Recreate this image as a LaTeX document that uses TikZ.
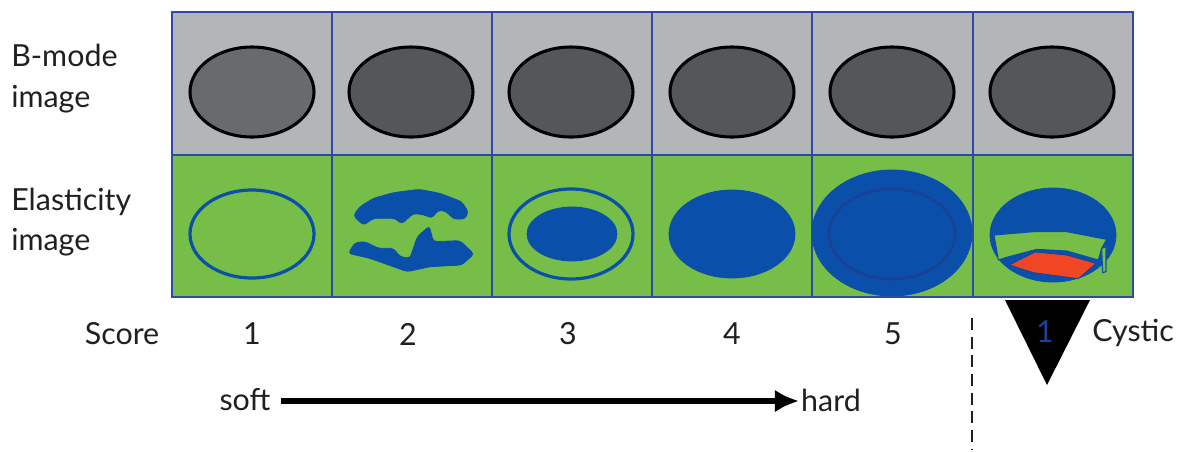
\documentclass[tikz,border=0pt]{standalone}
\usepackage{fontspec}
\usetikzlibrary{arrows.meta}
\setmainfont{Lato}
\definecolor{cellgrey}{RGB}{179,181,183}
\definecolor{cellgreen}{RGB}{118,190,72}
\definecolor{gridblue}{RGB}{45,75,165}
\definecolor{lesionblue}{RGB}{10,80,170}
\definecolor{deepblue}{RGB}{25,65,150}
\definecolor{lesiongrey}{RGB}{84,86,88}
\definecolor{hotred}{RGB}{240,70,35}
\definecolor{inktext}{RGB}{35,31,32}
\tikzset{
  cellb/.style={fill=cellgrey,draw=gridblue,line width=2.1pt},
  celle/.style={fill=cellgreen,draw=gridblue,line width=2.1pt},
  bmass/.style={fill=lesiongrey,draw=black,line width=2.3pt},
  bluering/.style={draw=lesionblue,line width=2.4pt},
  bluefill/.style={fill=lesionblue,draw=lesionblue,line width=.6pt},
  lbl/.style={font=\fontsize{22.8}{30.5}\selectfont,text=inktext,inner sep=0pt},
  sidelbl/.style={lbl,align=left,anchor=west}
}
\begin{document}
\begin{tikzpicture}[x=.75pt,y=-.75pt]
\useasboundingbox (0,0) rectangle (1180,451);
\fill[white] (0,0) rectangle (1180,451);

% B-mode row and elasticity row
\foreach \xa/\xb in {172/332,332/492,492/652,652/812,812/973,973/1133}{
  \path[cellb] (\xa,12) rectangle (\xb,155);
  \path[celle] (\xa,155) rectangle (\xb,297);
}
% B-mode lesions
\foreach \cx/\shade in {252/lesiongrey!88!white,411/lesiongrey,571/lesiongrey,732/lesiongrey,892/lesiongrey,1052/lesiongrey}{
  \path[bmass,fill=\shade] (\cx,92) ellipse [x radius=62,y radius=45];
}

% Score 1
\path[bluering] (252,234) ellipse [x radius=62,y radius=44];

% Score 2: two irregular fragments
\begin{scope}[shift={(330,150)},scale=1/3,rounded corners=2.5pt]
  \path[bluefill] (70,197) -- (90,170) -- (130,145) -- (190,128) -- (268,118) -- (330,130)
    -- (395,155) -- (415,185) -- (405,207) -- (370,207) -- (350,185) -- (325,180) -- (305,205)
    -- (285,195) -- (250,190) -- (215,222) -- (195,205) -- (170,205) -- (130,205) -- (100,226) -- cycle;
  \path[bluefill] (55,310) -- (75,278) -- (105,275) -- (145,295) -- (190,295) -- (210,320)
    -- (240,325) -- (262,260) -- (298,228) -- (310,275) -- (390,272) -- (432,312) -- (395,345)
    -- (300,350) -- (232,365) -- (190,350) -- (120,325) -- cycle;
\end{scope}

% Score 3
\path[bluering] (571,234) ellipse [x radius=62,y radius=45];
\path[bluefill] (572,234) ellipse [x radius=45,y radius=27];

% Score 4
\path[bluefill] (732,234) ellipse [x radius=63,y radius=44];

% Score 5
\path[bluefill] (892,233) ellipse [x radius=80,y radius=63];
\path[draw=deepblue,line width=2pt] (892,234) ellipse [x radius=63,y radius=45];

% Cystic pattern
\path[bluefill] (1053,235) ellipse [x radius=63,y radius=47];
\begin{scope}[shift={(800,150)},scale=1/3]
  \path[fill=cellgreen,draw=lesionblue,line width=.8pt] (582,255) -- (700,245) -- (800,245) -- (920,268)
    -- (905,295) -- (895,330) -- (800,303) -- (710,298) -- (620,322) -- (595,330) -- cycle;
  \path[fill=cellgreen,draw=lesionblue,line width=.8pt] (905,295) -- (918,290) -- (918,365) -- (908,368) -- cycle;
  \path[fill=hotred,draw=deepblue,line width=.6pt] (628,345) -- (705,306) -- (800,315)
    -- (888,340) -- (835,386) -- (700,368) -- cycle;
\end{scope}

% Row captions
\node[sidelbl] (bmode) at (11,78.5) {B-mode\\image};
\node[sidelbl] (elast) at (11,222) {Elasticity\\image};

% Score line
\node[lbl] (score) at (122,334) {Score};
\node[lbl] (s1) at (252,334) {1};
\node[lbl] (s2) at (408,334) {2};
\node[lbl] (s3) at (568,334) {3};
\node[lbl] (s4) at (732,334) {4};
\node[lbl] (s5) at (893,334) {5};

% Cystic marker
\fill[black] (1005,300) -- (1090,300) -- (1047,385) -- cycle;
\node[lbl,text=deepblue] (s6) at (1045,332) {1};
\node[lbl,anchor=west] (cystic) at (1092,333) {Cystic};

% Soft-to-hard scale
\node[lbl] (soft) at (245,400) {soft};
\node[lbl] (hard) at (831,400) {hard};
\draw[line width=4.2pt,-{Latex[length=18pt,width=17pt]}] ([xshift=8pt,yshift=-.75pt]soft.east) -- ([xshift=-1.5pt,yshift=-.75pt]hard.west);

% Divider
\coordinate (divtop) at (972,318);
\coordinate (divbot) at (972,450);
\draw[line width=1.8pt,dash pattern=on 9pt off 5pt,inktext] (divtop) -- (divbot);
\end{tikzpicture}
\end{document}
